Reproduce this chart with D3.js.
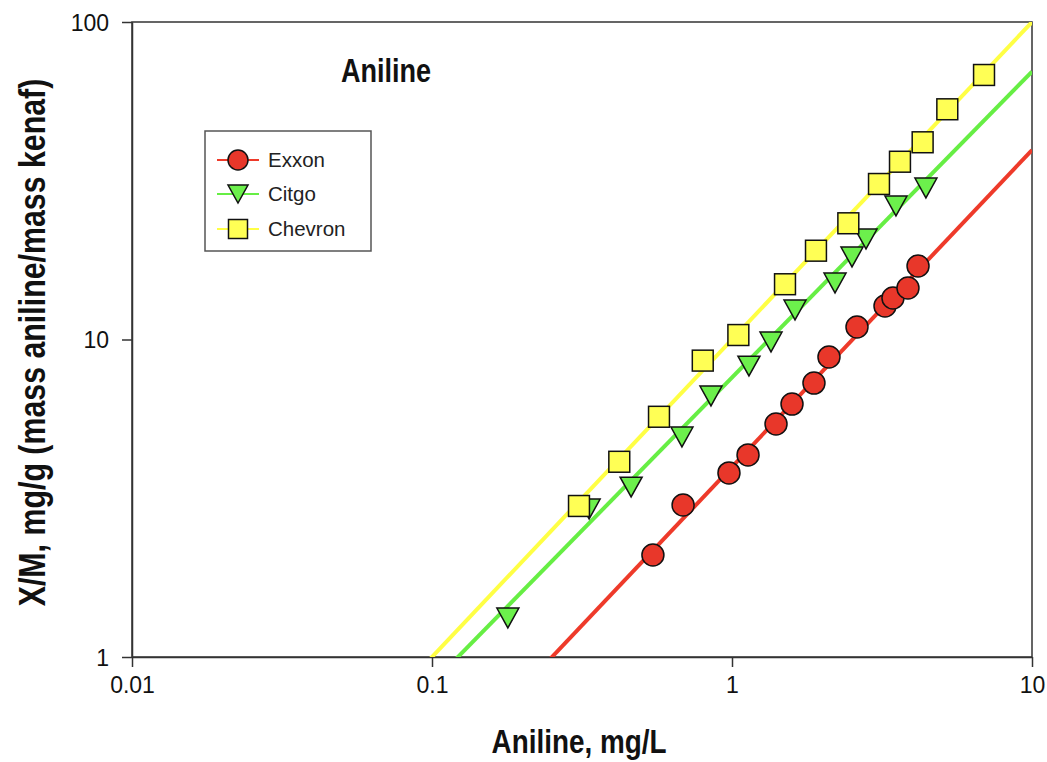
<!DOCTYPE html>
<html>
<head>
<meta charset="utf-8">
<script src="https://cdn.jsdelivr.net/npm/d3@7"></script>
<style>
  html, body { margin: 0; padding: 0; background: #fff; }
  svg { display: block; }
</style>
</head>
<body>
<svg id="chart" width="1047" height="762"></svg>
<script>
// Aniline adsorption isotherms on kenaf (log-log)
const seriesNames = ["Exxon", "Citgo", "Chevron"];

const exxonC = [0.545, 0.687, 0.977, 1.131, 1.402, 1.585, 1.876, 2.105, 2.61, 3.236, 3.44, 3.86, 4.17];
const exxonQ = [2.096, 3.01, 3.80, 4.33, 5.42, 6.26, 7.29, 8.81, 10.95, 12.75, 13.51, 14.53, 17.04];

const citgoC = [0.179, 0.334, 0.461, 0.681, 0.851, 1.139, 1.349, 1.622, 2.205, 2.512, 2.797, 3.52, 4.43];
const citgoQ = [1.327, 2.925, 3.43, 4.93, 6.64, 8.25, 9.82, 12.39, 15.07, 18.19, 20.73, 26.33, 30.01];

const chevronC = [0.309, 0.421, 0.571, 0.799, 1.05, 1.502, 1.905, 2.442, 3.09, 3.63, 4.32, 5.22, 6.92];
const chevronQ = [2.99, 4.12, 5.71, 8.58, 10.33, 14.93, 19.04, 23.23, 30.89, 36.3, 41.8, 53.1, 68.1];

// Freundlich fit parameters q = K * C^n for each series
const fitK = [3.97, 7.59, 10.0];
const fitN = [0.998, 0.9635, 1.0];

const xTickValues = [0.01, 0.1, 1, 10];
const xTickLabels = ["0.01", "0.1", "1", "10"];
const yTickValues = [1, 10, 100];
const yTickLabels = ["1", "10", "100"];

const lineColors = ["#ee3a2a", "#66ee44", "#ffff44"];
const fillColors = ["#e8372a", "#6cf04c", "#ffff55"];
const markerTypes = ["circle", "triangle", "square"];

const svg = d3.select("#chart");
const plot = { left: 132, right: 1032, top: 22, bottom: 657 };

const x = d3.scaleLog().domain([0.01, 10]).range([plot.left, plot.right]);
const y = d3.scaleLog().domain([1, 100]).range([plot.bottom, plot.top]);

const sansFont = "'Liberation Sans', Arial, Helvetica, sans-serif";

svg.append("defs").append("clipPath").attr("id", "plotClip")
  .append("rect")
  .attr("x", plot.left).attr("y", plot.top)
  .attr("width", plot.right - plot.left).attr("height", plot.bottom - plot.top);

// Frame
svg.append("rect")
  .attr("x", plot.left).attr("y", plot.top)
  .attr("width", plot.right - plot.left).attr("height", plot.bottom - plot.top)
  .attr("fill", "none").attr("stroke", "#333").attr("stroke-width", 1.5);

// Axes
const xAxis = d3.axisBottom(x).tickValues(xTickValues)
  .tickFormat((d, i) => xTickLabels[i]).tickSizeInner(10).tickSizeOuter(0).tickPadding(10);
const yAxis = d3.axisLeft(y).tickValues(yTickValues)
  .tickFormat((d, i) => yTickLabels[i]).tickSizeInner(10).tickSizeOuter(0).tickPadding(13);

const gx = svg.append("g").attr("transform", `translate(0,${plot.bottom})`).call(xAxis);
const gy = svg.append("g").attr("transform", `translate(${plot.left},0)`).call(yAxis);
[gx, gy].forEach(g => {
  g.select(".domain").attr("stroke", "#333").attr("stroke-width", 1.5);
  g.selectAll(".tick line").attr("stroke", "#333").attr("stroke-width", 1.5);
  g.selectAll(".tick text").attr("fill", "#111")
    .style("font-family", sansFont).style("font-size", "23px");
});
gy.selectAll(".tick text").attr("dy", "0.35em");

// Fit lines
const data = [
  { C: exxonC, Q: exxonQ },
  { C: citgoC, Q: citgoQ },
  { C: chevronC, Q: chevronQ }
];

const lineGen = d3.line().x(d => x(d[0])).y(d => y(d[1]));
const lines = svg.append("g").attr("clip-path", "url(#plotClip)");
fitK.forEach((k, i) => {
  const pts = x.domain().map(c => [c, k * Math.pow(c, fitN[i])]);
  lines.append("path")
    .attr("d", lineGen(pts))
    .attr("fill", "none")
    .attr("stroke", lineColors[i])
    .attr("stroke-width", 4);
});

// Marker shapes
function drawMarker(g, type, cx, cy, fill, size) {
  const s = size / 2;
  if (type === "circle") {
    g.append("circle").attr("cx", cx).attr("cy", cy).attr("r", s);
  } else if (type === "triangle") {
    g.append("path").attr("d",
      `M${cx - s},${cy - s * 0.9}L${cx + s},${cy - s * 0.9}L${cx},${cy + s * 0.9}Z`);
  } else {
    g.append("rect").attr("x", cx - s * 0.95).attr("y", cy - s * 0.95)
      .attr("width", s * 1.9).attr("height", s * 1.9);
  }
  g.selectAll("*").attr("fill", fill).attr("stroke", "#111").attr("stroke-width", 1.5);
}

const markers = svg.append("g");
data.forEach((s, i) => {
  s.C.forEach((c, j) => {
    const g = markers.append("g");
    drawMarker(g, markerTypes[i], x(c), y(s.Q[j]), fillColors[i], 22);
  });
});

// Title
svg.append("text")
  .attr("transform", "translate(341,82) scale(0.82,1)")
  .style("font-family", sansFont).style("font-weight", "bold").style("font-size", "33px")
  .attr("fill", "#111")
  .text("Aniline");

// Axis titles
svg.append("text")
  .attr("transform", `translate(${(plot.left + plot.right) / 2 - 3},753) scale(0.82,1)`)
  .attr("text-anchor", "middle")
  .style("font-family", sansFont).style("font-weight", "bold").style("font-size", "34px")
  .attr("fill", "#111")
  .text("Aniline, mg/L");

svg.append("text")
  .attr("transform", `translate(45,${(plot.top + plot.bottom) / 2 + 3}) rotate(-90) scale(0.82,1)`)
  .attr("text-anchor", "middle")
  .style("font-family", sansFont).style("font-weight", "bold").style("font-size", "37px")
  .attr("fill", "#111")
  .text("X/M, mg/g (mass aniline/mass kenaf)");

// Legend
const legend = svg.append("g");
legend.append("rect")
  .attr("x", 205).attr("y", 131).attr("width", 166).attr("height", 120)
  .attr("fill", "#fff").attr("stroke", "#555").attr("stroke-width", 1.5);
const legendY = [160, 194, 229];
seriesNames.forEach((name, i) => {
  legend.append("line")
    .attr("x1", 217).attr("x2", 259)
    .attr("y1", legendY[i]).attr("y2", legendY[i])
    .attr("stroke", lineColors[i]).attr("stroke-width", 1.8);
  const g = legend.append("g");
  drawMarker(g, markerTypes[i], 238, legendY[i], fillColors[i], 20);
  legend.append("text")
    .attr("x", 268).attr("y", legendY[i] + 7)
    .style("font-family", sansFont).style("font-size", "20.5px")
    .attr("fill", "#222")
    .text(name);
});
</script>
</body>
</html>
